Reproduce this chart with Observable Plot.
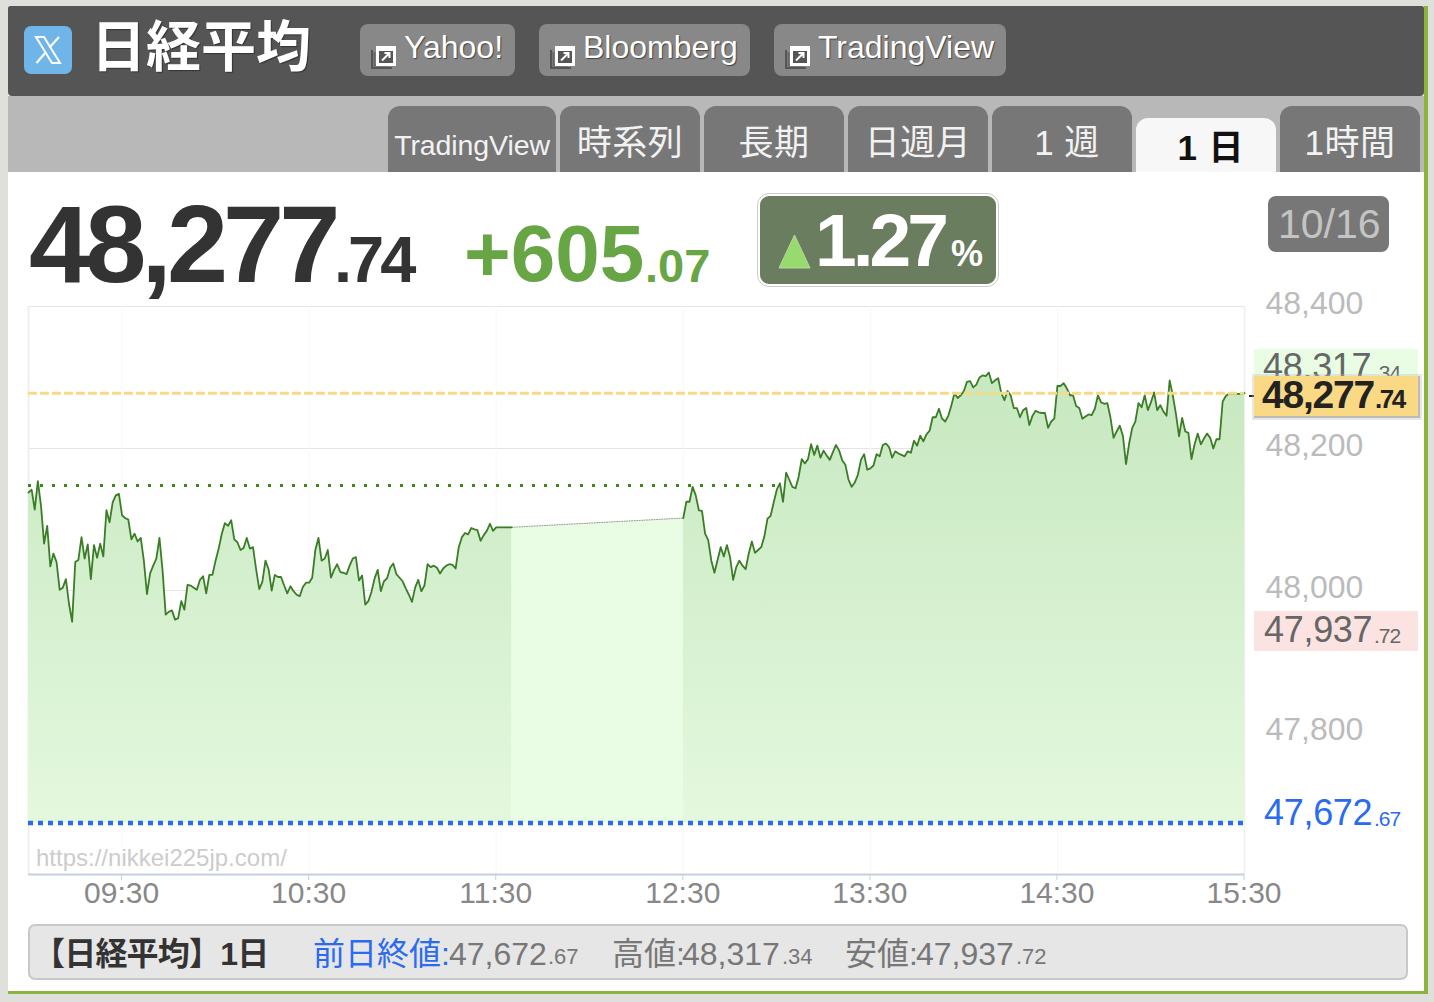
<!DOCTYPE html>
<html lang="ja">
<head>
<meta charset="utf-8">
<script src="https://cdn.jsdelivr.net/npm/d3@7"></script>
<script src="https://cdn.jsdelivr.net/npm/@observablehq/plot@0.6"></script>
<style>
html,body{margin:0;padding:0;background:#dfdfdb;overflow:hidden;}
#page{position:relative;width:1434px;height:1002px;overflow:hidden;font-family:"Liberation Sans","Noto Sans CJK JP",sans-serif;}
.b{position:absolute;box-sizing:border-box;}
.t{position:absolute;white-space:nowrap;line-height:1;}
svg{overflow:visible;}
</style>
</head>
<body>
<div id="page"></div>
<script>
// ---- data ----
const morningStart = 540;   // 09:00, one value per minute
const afternoonStart = 750; // 12:30, one value per minute
const morning = [48138,48142,48114,48154,48120,48066,48091,48034,48052,48040,48001,48004,48016,47981,47956,48040,48043,48075,48045,48065,48016,48064,48046,48066,48048,48113,48096,48124,48134,48136,48106,48102,48100,48072,48080,48069,48074,48042,47995,48024,48035,48045,48074,48028,47966,47970,47972,47959,47961,47985,47973,48008,48007,48004,48001,48015,48020,47996,48022,48022,48042,48059,48080,48095,48091,48099,48072,48068,48057,48060,48074,48059,48061,48030,48002,48012,48042,48030,48000,48022,48019,48019,
48007,47996,48006,47999,47994,47992,48005,48011,48011,48018,48057,48074,48042,48045,48057,48018,48029,48037,48026,48025,48023,48035,48045,48047,48014,48021,47980,47985,47998,48017,48029,47999,48013,48017,48032,48038,48023,48018,48013,48003,47994,47984,48004,48015,47999,48007,48037,48033,48035,48032,48024,48031,48035,48037,48036,48031,48061,48075,48081,48079,48088,48086,48085,48070,48078,48084,48094,48084,48089,48089,48089,48089,48089,48089];
const afternoon = [48102,48125,48125,48146,48134,48113,48112,48080,48071,48042,48025,48043,48061,48048,48064,48047,48015,48033,48042,48035,48030,48052,48069,48053,48057,48061,48076,48101,48105,48124,48142,48151,48125,48166,48156,48146,48144,48160,48185,48179,48185,48206,48191,48204,48187,48197,48190,48184,48195,48205,48197,48183,48177,48156,48146,48152,48163,48184,48192,48170,48172,48176,48192,48189,48205,48207,48202,48187,48196,48193,48191,48189,48196,48194,48211,48204,48218,48210,48220,48225,
48244,48244,48256,48242,48238,48246,48261,48278,48271,48275,48281,48294,48295,48286,48290,48300,48303,48302,48307,48292,48296,48299,48278,48268,48281,48275,48257,48257,48244,48254,48257,48233,48246,48253,48251,48250,48250,48229,48238,48242,48288,48288,48292,48285,48275,48275,48260,48257,48242,48245,48248,48247,48256,48275,48265,48263,48264,48244,48215,48224,48232,48218,48178,48207,48229,48238,48264,48258,48275,48254,48265,48279,48254,48261,48252,48246,48296,48275,48249,48217,48243,48224,48222,48185,48206,48221,48206,48214,48221,48215,48200,48213,48213,48266,48274,48277,48277,48277,48277,48277,48278];
const current = 48277.74, prevClose = 47672.67, openPrice = 48148, dayHigh = 48317.34, dayLow = 47937.72;
const yTicks = [47800,48000,48200,48400];
const yGrid = [48000,48200,48400];
const xTicks = [570,630,690,750,810,870,930];
const xLabels = ["09:30","10:30","11:30","12:30","13:30","14:30","15:30"];
const tabs = ["TradingView","時系列","長期","日週月","1 週","1 日","1時間"];
const links = ["Yahoo!","Bloomberg","TradingView"];

const morningRows = morning.map((v,i)=>({t:morningStart+i,v}));
const afternoonRows = afternoon.map((v,i)=>({t:afternoonStart+i,v}));
const gapRows = [morningRows[morningRows.length-1], afternoonRows[0]];

// ---- page furniture ----
const page = document.getElementById("page");
function box(x,y,w,h,css){const d=document.createElement("div");d.className="b";d.style.cssText=`left:${x}px;top:${y}px;width:${w}px;height:${h}px;${css||""}`;page.appendChild(d);return d;}
function txt(x,base,size,s,color,css,center){const d=document.createElement("div");d.className="t";d.textContent=s;
  d.style.cssText=`${center?`left:${x}px;transform:translateX(-50%);`:`left:${x}px;`}top:${base-0.85*size}px;font-size:${size}px;color:${color};${css||""}`;page.appendChild(d);return d;}
const fmt = d3.format(",.2f");
function parts(v){const [a,b]=fmt(v).split(".");return [a,"."+b];}

// frame
box(8,6,1420,988,"background:#fff;border-right:4px solid #8db33f;border-bottom:3px solid #8db33f;");
box(8,96,1416,76,"background:#b8b8b8;");
box(8,6,1416,90,"background:#555;border-radius:2px 2px 4px 4px;");

// header
box(24,26,48,48,"background:#6fb5e8;border-radius:7px;");
page.insertAdjacentHTML("beforeend",`<svg class="b" style="left:24px;top:26px" width="48" height="48" viewBox="0 0 48 48"><g fill="none" stroke="#fff"><path d="M12 11 L20 11 L36 37 L28 37 Z" stroke-width="2"/><path d="M35 11 L25.500 21.500 M22 26 L12.500 37" stroke-width="2.200"/></g></svg>`);
txt(91,67,55,"日経平均","#fff","font-weight:700;text-shadow:1px 1px 1px #333;");
const linkBoxes=[[360,155,404],[539,211,583],[774,232,818]];
links.forEach((s,i)=>{const [x,w,tx]=linkBoxes[i];
  box(x,24,w,52,"background:#888;border-radius:8px;");
  page.insertAdjacentHTML("beforeend",`<svg class="b" style="left:${x+10}px;top:42px" width="28" height="28" viewBox="0 0 28 28"><path d="M2 8 V26 H22" fill="none" stroke="#555" stroke-width="2"/><path d="M4.500 10 V23.500 H19" fill="none" stroke="#666" stroke-width="2"/><rect x="6" y="4" width="20" height="20" fill="#fff"/><rect x="9" y="9" width="14" height="12" fill="#555"/><path d="M12 18.500 L19 11.500 M14.500 11 H19.500 V16" fill="none" stroke="#fff" stroke-width="2"/></svg>`);
  txt(tx,58,32,s,"#fff","text-shadow:1px 1px 1px #444;");
});

// tabs
const tabBoxes=[[388,168],[560,140],[704,140],[848,140],[992,140],[1136,140],[1280,140]];
tabs.forEach((s,i)=>{const [x,w]=tabBoxes[i];const active=i===5;
  const shift = i===4?5:(i===5?5:0);
  box(x,active?118:106,w,active?54:66,`background:${active?"#f7f7f7":"#777"};border-radius:12px 12px 0 0;`);
  txt(x+w/2+shift,active?160:155,i===0?28.5:35,s,active?"#111":"#f2f2f2",active?"font-weight:700;letter-spacing:1px;":(i===0?"letter-spacing:-0.1px;":"letter-spacing:0.5px;"),true);
});

// headline numbers
const [ca,cb]=parts(current);
txt(29,282,110,ca,"#333","font-weight:700;letter-spacing:-5px;");
txt(334,282,65,cb,"#333","font-weight:700;letter-spacing:-4px;");
txt(464,282,80,"+605","#67a545","font-weight:700;");
txt(645,282,47,".07","#67a545","font-weight:700;");
box(758,194,240,92,"background:#6a7d5e;border:2px solid #fff;outline:1px solid #ccc;border-radius:11px;");
page.insertAdjacentHTML("beforeend",`<svg class="b" style="left:778px;top:234px" width="33" height="35" viewBox="0 0 33 35"><path d="M16.500 1 L32 34 H1 Z" fill="#97da6e" stroke="#b9d6a2" stroke-width="1"/></svg>`);
txt(815,267,75,"1.27","#fff","font-weight:700;letter-spacing:-4px;");
txt(951,267,36,"%","#fff","font-weight:700;");
box(1268,196,121,56,"background:#777;border-radius:8px;");
txt(1278,239,41,"10/16","#c4c4c4","");

// chart
const areaFill = (index,scales)=>{
  const defs=d3.create("svg:defs");
  const g=defs.append("linearGradient").attr("id","dayFill").attr("gradientUnits","userSpaceOnUse")
    .attr("x1",0).attr("x2",0).attr("y1",scales.y(48307)).attr("y2",scales.y(prevClose));
  g.append("stop").attr("offset",0).attr("stop-color","#c7e8c0");
  g.append("stop").attr("offset",1).attr("stop-color","#e4f8de");
  return defs.node();
};
const chart = Plot.plot({
  width:1434,height:630,
  marginLeft:28,marginRight:190,marginTop:26,marginBottom:36,
  style:{background:"transparent",fontFamily:'"Liberation Sans",sans-serif',overflow:"visible"},
  x:{domain:[540,930]},
  y:{domain:[47600,48400]},
  marks:[
    areaFill,
    Plot.ruleY(yGrid,{stroke:"#e4e4e4",strokeWidth:1.2}),
    Plot.ruleX(xTicks,{stroke:"#f8f8f8",strokeWidth:1}),
    Plot.ruleX([540],{stroke:"#efefef",strokeWidth:2}),
    Plot.ruleX([930],{stroke:"#efefef",strokeWidth:1.500}),
    Plot.ruleY([openPrice],{stroke:"#3c8a1e",strokeWidth:3,strokeDasharray:"3,9"}),
    Plot.areaY(gapRows,{x:"t",y1:()=>prevClose,y2:"v",fill:"#e8fde3"}),
    Plot.areaY(morningRows,{x:"t",y1:()=>prevClose,y2:"v",fill:"url(#dayFill)"}),
    Plot.areaY(afternoonRows,{x:"t",y1:()=>prevClose,y2:"v",fill:"url(#dayFill)"}),
    Plot.line(gapRows,{x:"t",y:"v",stroke:"#999",strokeWidth:1,strokeDasharray:"1,1.500"}),
    Plot.line(morningRows,{x:"t",y:"v",stroke:"#3a7d26",strokeWidth:1.8,curve:"linear"}),
    Plot.line(afternoonRows,{x:"t",y:"v",stroke:"#3a7d26",strokeWidth:1.8,curve:"linear"}),
    Plot.ruleY([current],{stroke:"#f9d984",strokeWidth:3,strokeDasharray:"9,3"}),
    Plot.ruleY([prevClose],{stroke:"#2a6bf0",strokeWidth:4.500,strokeDasharray:"5,5"}),
    Plot.ruleY([47600],{stroke:"#c4d0de",strokeWidth:2}),
    Plot.axisX({ticks:xTicks,tickFormat:(d,i)=>xLabels[i],label:null,tickSize:6,tickPadding:1,stroke:"#c4d0de",fill:"#888",color:"#888",fontSize:30,dx:-0.500}),
    Plot.axisY({ticks:yTicks,anchor:"right",tickFormat:d3.format(","),label:null,tickSize:0,tickPadding:21,fill:"#bbb",color:"#bbb",fontSize:32,dy:-3})
  ]
});
chart.style.cssText+=";position:absolute;left:0;top:280px;";
page.appendChild(chart);
txt(36,866,24,"https://nikkei225jp.com/","#ccc","");

// right-hand value labels
const [ha,hb]=parts(dayHigh),[la,lb]=parts(dayLow),[pa,pb]=parts(prevClose);
box(1254,349,164,40,"background:#e8fde3;");
txt(1263,380,36,ha,"#666","letter-spacing:-0.3px;");
txt(1374,380,21,hb,"#666","letter-spacing:-1px;");
box(1249,395,9,2,"background:#222;");
box(1254,376,166,42,"background:#fad984;border-right:2px solid #bbb;border-bottom:2px solid #bbb;box-shadow:0 0 0 2px rgba(190,190,190,.35);");
txt(1262,408,39,ca,"#222","font-weight:700;letter-spacing:-1.200px;");
txt(1375,408,26,cb,"#222","font-weight:700;letter-spacing:-2.500px;");
box(1254,611,164,40,"background:#fae3e1;");
txt(1264,643,36,la,"#666","letter-spacing:-0.3px;");
txt(1374,643,21,lb,"#666","letter-spacing:-1px;");
txt(1264,826,36,pa,"#2a6bf0","letter-spacing:-0.3px;");
txt(1374,826,21,pb,"#2a6bf0","letter-spacing:-1px;");

// footer
box(28,924,1380,56,"background:#e6e6e6;border:2px solid #c8c8c8;border-radius:7px;");
txt(33,965,32,"【日経平均】1日","#333","font-weight:700;letter-spacing:-0.8px;");
txt(313,965,32,"前日終値:","#2a6bf0");
txt(449,965,32,pa,"#777");
txt(548,965,22,pb,"#777");
txt(612,965,32,"高値:","#777");
txt(682,965,32,ha,"#777");
txt(782,965,22,hb,"#777");
txt(845,965,32,"安値:","#777");
txt(916,965,32,la,"#777");
txt(1016,965,22,lb,"#777");
</script>
</body>
</html>
